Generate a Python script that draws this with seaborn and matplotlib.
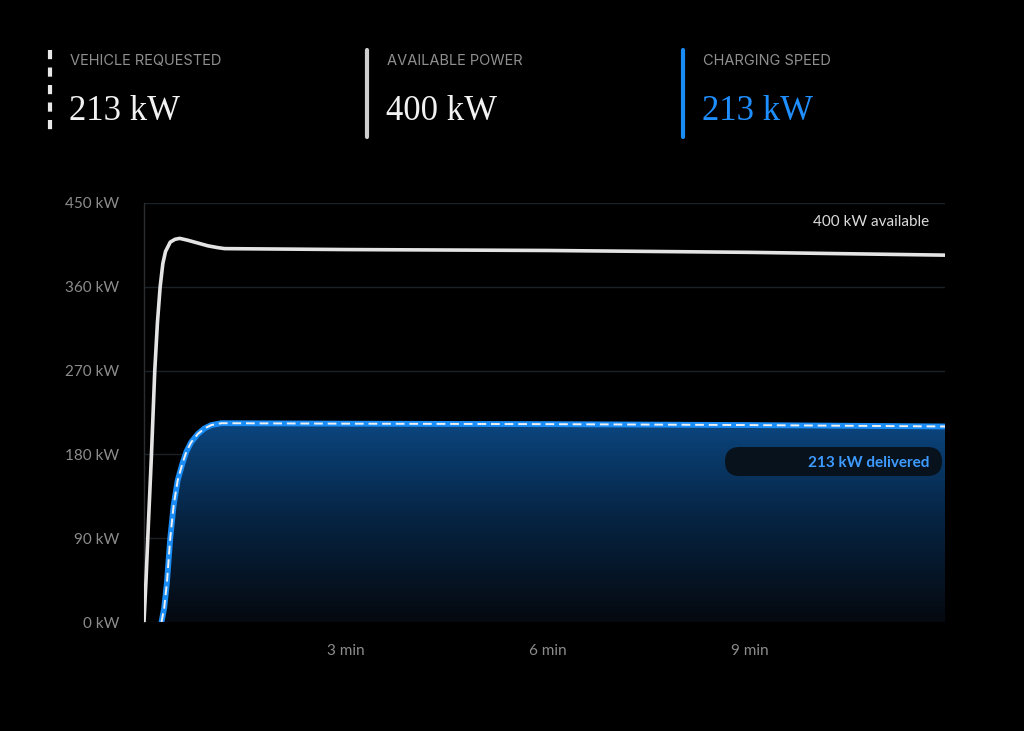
import numpy as np
import matplotlib
matplotlib.use("Agg")
import matplotlib.pyplot as plt
from matplotlib.colors import LinearSegmentedColormap
from matplotlib.lines import Line2D
from matplotlib.patches import FancyBboxPatch
from matplotlib.transforms import IdentityTransform
import seaborn as sns

# available power curve (minutes, kW)
avail_t = [0.0, 0.03, 0.065, 0.11, 0.16, 0.2, 0.24, 0.28, 0.32, 0.39, 0.46, 0.53,
           0.65, 0.8, 0.95, 1.1, 1.2, 3.0, 6.0, 9.0, 11.9]
avail_kw = [0, 45, 105, 178, 270, 322, 360, 385, 398, 408, 411, 412,
            410, 407, 404, 402, 401, 400, 399, 397, 394]

# charging speed curve
speed_t = [0.26, 0.3, 0.34, 0.39, 0.44, 0.5, 0.57, 0.63, 0.7, 0.8, 0.9, 1.0,
           1.15, 3.0, 6.0, 9.0, 11.9]
speed_kw = [0, 15, 42, 90, 125, 152, 170, 183, 193, 202, 208, 211.5,
            213.5, 213, 212.5, 211.5, 210]

# vehicle requested follows the charging speed
req_t = speed_t
req_kw = speed_kw

y_ticks = [0, 90, 180, 270, 360, 450]
x_ticks = [3, 6, 9]

header_titles = ["VEHICLE REQUESTED", "AVAILABLE POWER", "CHARGING SPEED"]
header_values = ["213 kW", "400 kW", "213 kW"]

BLUE = "#1a8cf5"
W, H = 1024, 731

sns.set_style("dark")
plt.rcParams["font.family"] = ["Lato", "DejaVu Sans"]

fig = plt.figure(figsize=(W / 100, H / 100), dpi=100, facecolor="black")
ax = fig.add_axes([144 / W, 1 - 622 / H, 801 / W, 419 / H])
ax.set_facecolor("black")

# gradient fill under the charging curve
cmap = LinearSegmentedColormap.from_list("fill", ["#05090f", "#062341", "#0b4680"])
grad = np.linspace(0, 1, 256).reshape(-1, 1)
poly = ax.fill_between(speed_t, speed_kw, 0, facecolor="none", edgecolor="none")
img = ax.imshow(grad, extent=[0, 11.9, 0, 216], origin="lower", aspect="auto",
                cmap=cmap, zorder=1)
img.set_clip_path(poly.get_paths()[0], transform=ax.transData)

sns.lineplot(x=avail_t, y=avail_kw, ax=ax, color="#e4e4e4", lw=2.6, zorder=4)
sns.lineplot(x=speed_t, y=speed_kw, ax=ax, color=BLUE, lw=4.2, zorder=5)
sns.lineplot(x=req_t, y=req_kw, ax=ax, color="#f0f0f0", lw=1.4,
             linestyle=(0, (4.5, 2.5)), zorder=6)

ax.set_xlim(0, 11.9)
ax.set_ylim(0, 450)
ax.set_yticks(y_ticks)
ax.set_yticklabels([f"{v} kW" for v in y_ticks])
ax.set_xticks(x_ticks)
ax.set_xticklabels([f"{v} min" for v in x_ticks])
ax.tick_params(axis="both", colors="#8c8c8c", labelsize=11, length=0)
ax.tick_params(axis="y", pad=18)
ax.tick_params(axis="x", pad=16)
ax.grid(axis="y", color="#1c2126", lw=1)
ax.grid(axis="x", visible=False)
for s in ["top", "right", "bottom"]:
    ax.spines[s].set_visible(False)
ax.spines["left"].set_color("#2a2d30")
ax.spines["left"].set_linewidth(1)
ax.set_xlabel("")
ax.set_ylabel("")

ax.text(11.67, 430, "400 kW available", ha="right", va="center",
        color="#dcdcdc", fontsize=11, zorder=7)

# delivered badge
badge = FancyBboxPatch((725, H - 476), 217, 29,
                       boxstyle="round,pad=0,rounding_size=14.5",
                       transform=IdentityTransform(), facecolor="#08121c",
                       edgecolor="none", zorder=8, clip_on=False)
ax.add_patch(badge)
ax.text(11.67, 171, "213 kW delivered", ha="right", va="center",
        color="#3d9bff", fontsize=11, fontweight="bold", zorder=9)

# header
bar_x = [50, 367, 683]
bar_col = ["#e8e8e8", "#cfcfcf", BLUE]
bar_ls = [(0, (2.2, 2.0)), "-", "-"]
val_col = ["#f2f2f2", "#f2f2f2", "#1f8fff"]
for i in range(3):
    x = bar_x[i]
    fig.add_artist(Line2D([x / W, x / W], [1 - 50 / H, 1 - 137 / H],
                          transform=fig.transFigure, color=bar_col[i], lw=3,
                          linestyle=bar_ls[i], solid_capstyle="round"))
    fig.text((x + 20) / W, 1 - 61 / H, header_titles[i], color="#8f8f8f",
             fontsize=10.5, family=["Inter", "DejaVu Sans"], va="center")
    fig.text((x + 19) / W, 1 - 112 / H, header_values[i], color=val_col[i],
             fontsize=25, family=["Liberation Serif", "DejaVu Serif"], va="center")

fig.savefig("out.png", dpi=100, facecolor="black")
